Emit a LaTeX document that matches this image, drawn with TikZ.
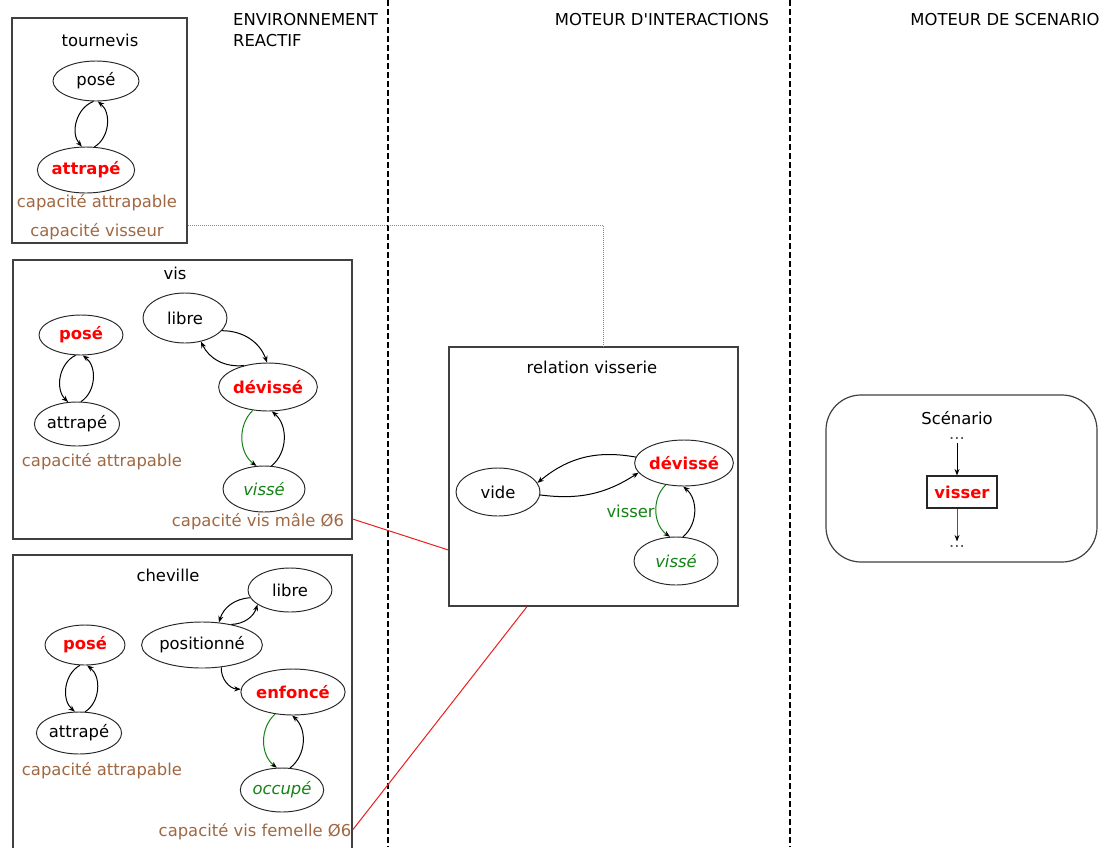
\documentclass[tikz,border=0pt]{standalone}
\usepackage{fontspec}
\setmainfont{DejaVu Sans}
\usetikzlibrary{shapes.geometric,arrows.meta}

\definecolor{capa}{RGB}{160,104,66}
\definecolor{actgreen}{RGB}{20,130,20}
\definecolor{linkgreen}{RGB}{120,150,120}
\definecolor{wirered}{RGB}{235,30,30}

\tikzset{
  every node/.style={font=\fontsize{16.4}{20.5}\selectfont},
  st/.style={ellipse, draw=black!85, line width=0.95pt, inner sep=0pt},
  frame/.style={draw=black!75, line width=1.2pt, inner sep=0pt},
  tr/.style={line width=1pt, -{Stealth[length=6.5pt,width=5pt]}},
  trg/.style={line width=1pt, draw=actgreen, -{Stealth[length=6.5pt,width=5pt,color=black]}},
  hot/.style={text=red, font=\fontsize{16.4}{20.5}\selectfont\bfseries},
  done/.style={text=actgreen, font=\fontsize{16.4}{20.5}\selectfont\itshape},
  capatext/.style={text=capa},
  sep/.style={line width=1.3pt, dash pattern=on 6pt off 3pt},
  link/.style={draw=linkgreen, line width=1pt, dash pattern=on 1pt off 1pt},
  wire/.style={draw=wirered, line width=1pt},
}

\begin{document}
\begin{tikzpicture}[x=1pt,y=-1pt]
\useasboundingbox (0,0) rectangle (1106,847);
\clip (0,0) rectangle (1106,847);
\fill[white] (0,0) rectangle (1106,847);

% column separators and headings
\draw[sep] (388,0) -- (388,847);
\draw[sep] (790,0) -- (790,847);
\node[anchor=west, align=left, inner sep=0pt] (henv) at (233,30) {ENVIRONNEMENT\\REACTIF};
\node (hinter) at (662,20) {MOTEUR D\textquotesingle INTERACTIONS};
\node (hscen) at (1005,20) {MOTEUR DE SCENARIO};

% tournevis
\node[frame, minimum width=175, minimum height=225] (tbox) at (99.5,130.5) {};
\node (tname) at (100,40) {tournevis};
\node[st, minimum width=86, minimum height=40] (tpose) at (96,81) {posé};
\node[st, hot, minimum width=74, minimum height=46] (tattr) at (86,170) {attrapé};
\node[capatext] (tcap1) at (97,203) {capacité attrapable};
\node[capatext] (tcap2) at (97,232) {capacité visseur};
\draw[tr] (tpose.263) to[bend right=55] (tattr.100);
\draw[tr] (tattr.70) to[bend right=55] (tpose.275);

% vis
\node[frame, minimum width=339, minimum height=279] (vbox) at (182.5,399.5) {};
\node (vname) at (175,273) {vis};
\node[st, hot, minimum width=84, minimum height=40] (vpose) at (81,335) {posé};
\node[st, minimum width=84, minimum height=44] (vattr) at (77,424) {attrapé};
\node[capatext] (vcap1) at (102,462) {capacité attrapable};
\node[st, minimum width=84, minimum height=50] (vlib) at (185,318) {libre};
\node[st, hot, minimum width=84, minimum height=48] (vdev) at (268,387) {dévissé};
\node[st, done, minimum width=82, minimum height=46] (vvis) at (264,489) {vissé};
\node[capatext] (vcap2) at (258,522) {capacité vis mâle Ø6};
\draw[tr] (vpose.255) to[bend right=55] (vattr.112);
\draw[tr] (vattr.80) to[bend right=55] (vpose.275);
\draw[tr] (vlib.341) to[bend left=35] (vdev.92);
\draw[tr] (vdev.138) to[bend left=35] (vlib.304);
\draw[trg] (vdev.237) to[bend right=50] (vvis.108);
\draw[tr] (vvis.72) to[bend right=50] (vdev.279);

% cheville
\node[frame, minimum width=339, minimum height=300] (cbox) at (182.5,705) {};
\node (cname) at (168,575) {cheville};
\node[st, hot, minimum width=80, minimum height=40] (cpose) at (85,645) {posé};
\node[st, minimum width=84, minimum height=42] (cattr) at (79,733) {attrapé};
\node[capatext] (ccap1) at (102,771) {capacité attrapable};
\node[st, minimum width=84, minimum height=44] (clib) at (290,590) {libre};
\node[st, minimum width=92, minimum height=46] (cposi) at (202,645) {positionné};
\node[st, hot, minimum width=88, minimum height=46] (cenf) at (293,692) {enfoncé};
\node[st, done, minimum width=80, minimum height=44] (cocc) at (282,790) {occupé};
\node[capatext] (ccap2) at (255,832) {capacité vis femelle Ø6};
\draw[tr] (cpose.256) to[bend right=55] (cattr.101);
\draw[tr] (cattr.74) to[bend right=55] (cpose.276);
\draw[tr] (clib.191) to[bend right=35] (cposi.53);
\draw[tr] (cposi.35) to[bend right=35] (clib.204);
\draw[tr] (cposi.311) to[bend right=45] (cenf.177);
\draw[trg] (cenf.231) to[bend right=50] (cocc.103);
\draw[tr] (cocc.70) to[bend right=50] (cenf.268);

% relation visserie
\node[frame, minimum width=289, minimum height=259] (rel) at (593.5,476.5) {};
\node (rname) at (592,367) {relation visserie};
\node[st, minimum width=84, minimum height=48] (rvide) at (498,492) {vide};
\node[st, hot, minimum width=84, minimum height=46] (rdev) at (684,463) {dévissé};
\node[st, done, minimum width=84, minimum height=48] (rvis) at (676,561) {vissé};
\draw[tr] (rdev.173) to[bend right=25] (rvide.13);
\draw[tr] (rvide.356) to[bend right=20] (rdev.192);
\draw[trg] (rdev.230) to[bend right=50] node[left, text=actgreen, inner sep=1pt] (lvisser) {visser} (rvis.104);
\draw[tr] (rvis.74) to[bend right=50] (rdev.268);

% links between the columns
\coordinate (tlink) at (603,225);
\draw[link] (tbox.east |- tlink) -| (rel.north -| tlink);
\draw[wire] (vbox.east |- 0,519) -- (rel.west |- 0,550);
\draw[wire] (cbox.east |- 0,830) -- (rel.south -| 527,0);

% scenario
\node[frame, rounded corners=35pt, minimum width=271, minimum height=167] (scen) at (961.5,478.5) {};
\node (scname) at (957,418) {Scénario};
\node[text=black!70] (sdots1) at (957,438) {...};
\node[draw=black!85, line width=1.1pt, hot, minimum width=70, minimum height=32, inner sep=0pt] (svis) at (962,492) {visser};
\node[text=black!70] (sdots2) at (957,546) {...};
\draw[tr] (sdots1.south) -- (sdots1.south |- svis.north);
\draw[trg] (svis.south -| sdots2) -- (sdots2.north);
\end{tikzpicture}
\end{document}
